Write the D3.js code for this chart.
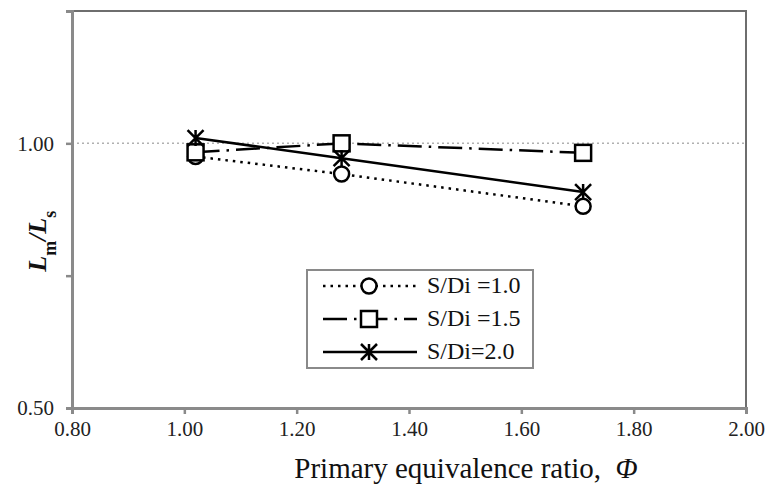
<!DOCTYPE html>
<html>
<head>
<meta charset="utf-8">
<script src="https://cdn.jsdelivr.net/npm/d3@7"></script>
<style>
  body { margin: 0; background: #fff; }
  text { font-family: "Liberation Serif", "Times New Roman", serif; }
</style>
</head>
<body>
<div id="chart"></div>
<script>
// data
var phi = [1.02, 1.28, 1.71];
var sdi10 = [0.975, 0.942, 0.881];
var sdi15 = [0.983, 1.000, 0.982];
var sdi20 = [1.010, 0.972, 0.908];
var seriesNames = ["S/Di =1.0", "S/Di =1.5", "S/Di=2.0"];
var xTicks = [0.8, 1.0, 1.2, 1.4, 1.6, 1.8, 2.0];
var yTicks = [0.5, 0.75, 1.0, 1.25];
var yLabels = [0.5, 1.0];

var W = 767, H = 492;
var margin = {top: 11, right: 21, bottom: 84, left: 72},
    width = W - margin.left - margin.right,
    height = H - margin.top - margin.bottom;

var svg = d3.select("#chart")
  .append("svg")
    .attr("width", W)
    .attr("height", H)
  .append("g")
    .attr("transform", "translate(" + margin.left + "," + margin.top + ")");

var x = d3.scaleLinear().domain([0.8, 2.0]).range([0, width]);
var y = d3.scaleLinear().domain([0.5, 1.25]).range([height, 0]);

// gridline at 1.00
svg.append("line")
  .attr("x1", 0).attr("x2", width)
  .attr("y1", y(1)).attr("y2", y(1))
  .attr("stroke", "#b0b0b0")
  .attr("stroke-width", 1.5)
  .attr("stroke-dasharray", "2,3");

// frame top and right
svg.append("path")
  .attr("d", "M0," + y(1.25) + "H" + width + "V" + height)
  .attr("fill", "none")
  .attr("stroke", "#6e6e6e")
  .attr("stroke-width", 2);

// axes
var xAxis = svg.append("g")
  .attr("transform", "translate(0," + height + ")")
  .call(d3.axisBottom(x).tickValues(xTicks).tickSize(6).tickPadding(7)
    .tickFormat(d3.format(".2f")));
var yAxis = svg.append("g")
  .call(d3.axisLeft(y).tickValues(yTicks).tickSize(6).tickPadding(12)
    .tickFormat(function(d) { return yLabels.indexOf(d) >= 0 ? d3.format(".2f")(d) : ""; }));

[xAxis, yAxis].forEach(function(a) {
  a.select(".domain").attr("stroke", "#8a8a8a").attr("stroke-width", 3);
  a.selectAll(".tick line").attr("stroke", "#8a8a8a").attr("stroke-width", 2.5);
  a.selectAll(".tick text")
    .style("font-family", "Liberation Serif, serif")
    .style("font-size", "21px")
    .attr("fill", "#222");
});

// series
var series = [
  {name: seriesNames[0], vals: sdi10, dash: "2.5,5", marker: "circle"},
  {name: seriesNames[1], vals: sdi15, dash: "24,7,2.5,7", marker: "square"},
  {name: seriesNames[2], vals: sdi20, dash: null, marker: "star"}
];

var line = d3.line()
  .x(function(d) { return x(d[0]); })
  .y(function(d) { return y(d[1]); });

function drawMarker(g, type, cx, cy) {
  if (type === "circle") {
    g.append("circle").attr("cx", cx).attr("cy", cy).attr("r", 7.5)
      .attr("fill", "#fff").attr("stroke", "#000").attr("stroke-width", 2.5);
  } else if (type === "square") {
    g.append("rect").attr("x", cx - 8).attr("y", cy - 8)
      .attr("width", 16).attr("height", 16)
      .attr("fill", "#fff").attr("stroke", "#000").attr("stroke-width", 2.5);
  } else {
    var r = 8;
    var p = "M" + (cx - r) + "," + (cy - r) + "L" + (cx + r) + "," + (cy + r) +
            "M" + (cx + r) + "," + (cy - r) + "L" + (cx - r) + "," + (cy + r) +
            "M" + cx + "," + (cy - r) + "L" + cx + "," + (cy + r);
    g.append("path").attr("d", p).attr("stroke", "#000").attr("stroke-width", 2.5)
      .attr("fill", "none");
  }
}

series.forEach(function(s) {
  var pts = phi.map(function(p, i) { return [p, s.vals[i]]; });
  svg.append("path")
    .datum(pts)
    .attr("d", line)
    .attr("fill", "none")
    .attr("stroke", "#000")
    .attr("stroke-width", 2.5)
    .attr("stroke-dasharray", s.dash);
  var mg = svg.append("g");
  pts.forEach(function(d) { drawMarker(mg, s.marker, x(d[0]), y(d[1])); });
});

// legend
var legend = svg.append("g").attr("transform", "translate(" + (307 - margin.left) + "," + (270 - margin.top) + ")");
legend.append("rect")
  .attr("width", 226).attr("height", 98)
  .attr("fill", "#fff")
  .attr("stroke", "#8a8a8a")
  .attr("stroke-width", 2);
series.forEach(function(s, i) {
  var ly = 16 + i * 33;
  legend.append("line")
    .attr("x1", 16).attr("x2", 110)
    .attr("y1", ly).attr("y2", ly)
    .attr("stroke", "#000").attr("stroke-width", 2.5)
    .attr("stroke-dasharray", s.dash);
  drawMarker(legend, s.marker, 62, ly);
  legend.append("text")
    .attr("x", 120).attr("y", ly + 7)
    .style("font-size", "24px")
    .attr("fill", "#111")
    .text(s.name);
});

// axis titles
var xt = svg.append("text")
  .attr("x", 394)
  .attr("y", height + 70)
  .attr("text-anchor", "middle")
  .style("font-size", "29px")
  .attr("fill", "#111");
xt.append("tspan").text("Primary equivalence ratio,\u00a0\u00a0");
xt.append("tspan").style("font-style", "italic").text("\u03A6");

var yt = svg.append("text")
  .attr("transform", "translate(" + (-26) + "," + (y(0.815)) + ") rotate(-90)")
  .attr("text-anchor", "middle")
  .style("font-size", "26px")
  .style("font-weight", "bold")
  .attr("fill", "#111");
yt.append("tspan").style("font-style", "italic").text("L");
yt.append("tspan").attr("baseline-shift", "sub").style("font-size", "18px").text("m");
yt.append("tspan").style("font-style", "italic").text("/L");
yt.append("tspan").attr("baseline-shift", "sub").style("font-size", "18px").text("s");
</script>
</body>
</html>
